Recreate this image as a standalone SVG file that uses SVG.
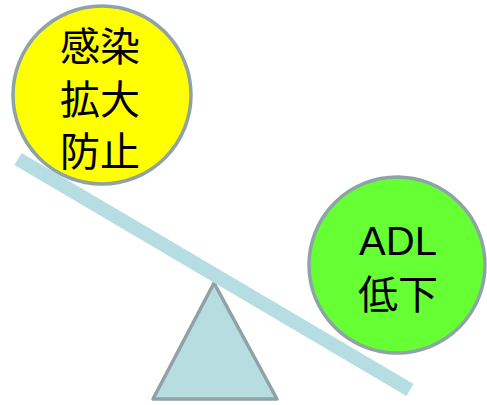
<svg xmlns="http://www.w3.org/2000/svg" width="487" height="405" viewBox="0 0 487 405">
<style>
.circ{stroke:#8fa3a6;stroke-width:3.5}
.t{font-family:"Liberation Sans","Noto Sans CJK JP",sans-serif;font-size:40px;fill:#000;text-anchor:middle}
</style>
<rect width="487" height="405" fill="#fff"/>
<g id="fulcrum"><polygon points="214,283 153,399 277,399" fill="#b7dde1" stroke="#8fa3a6" stroke-width="3.5" stroke-linejoin="round"/></g>
<g id="connectors"><line x1="18" y1="159" x2="410" y2="390" stroke="#b6dde1" stroke-width="14"/></g>
<g id="node-yellow">
<circle cx="102" cy="95" r="89" fill="#ffff00" class="circ"/>
<text class="t" x="100" y="61">感染</text>
<text class="t" x="100" y="114">拡大</text>
<text class="t" x="100" y="166">防止</text>
</g>
<g id="node-green">
<circle cx="397" cy="265" r="88" fill="#66ff33" class="circ"/>
<text class="t" x="398" y="255">ADL</text>
<text class="t" x="398" y="309">低下</text>
</g>
</svg>
